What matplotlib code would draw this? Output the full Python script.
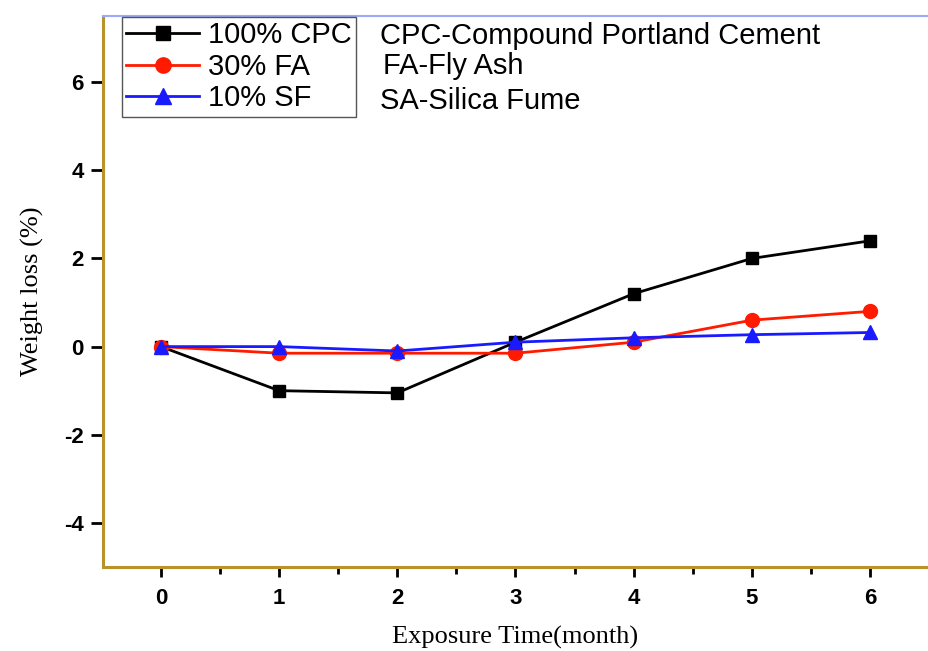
import matplotlib
matplotlib.use("Agg")
import matplotlib.pyplot as plt
from matplotlib.ticker import MultipleLocator

plt.rcParams["axes.unicode_minus"] = False

months = [0, 1, 2, 3, 4, 5, 6]
cpc = [0.0, -1.0, -1.05, 0.1, 1.2, 2.0, 2.4]
fa = [0.0, -0.15, -0.15, -0.15, 0.1, 0.6, 0.8]
sf = [0.0, 0.0, -0.1, 0.1, 0.2, 0.27, 0.32]
series_labels = ["100% CPC", "30% FA", "10% SF"]
notes = ["CPC-Compound Portland Cement", "FA-Fly Ash", "SA-Silica Fume"]
x_ticks = [0, 1, 2, 3, 4, 5, 6]
y_ticks = [-4, -2, 0, 2, 4, 6]

W, H = 929, 651
fig = plt.figure(figsize=(W / 100, H / 100), dpi=100)
ax = fig.add_axes([103 / W, (H - 567) / H, (928 - 103) / W, (567 - 16) / H])

ax.plot(months, cpc, color="black", marker="s", markersize=9, linewidth=2, label=series_labels[0], zorder=3)
ax.plot(months, fa, color="#ff1a00", marker="o", markersize=10, linewidth=2, label=series_labels[1], zorder=3)
ax.plot(months, sf, color="#1a1aff", marker="^", markersize=10, linewidth=2, label=series_labels[2], zorder=4)

ax.set_xlim(-0.49, 6.49)
ax.set_ylim(-5, 7.5)
ax.set_xticks(x_ticks)
ax.set_yticks(y_ticks)
ax.xaxis.set_minor_locator(MultipleLocator(0.5))
ax.tick_params(axis="x", which="major", direction="out", length=7, width=2, pad=8)
ax.tick_params(axis="x", which="minor", direction="out", length=5, width=2)
ax.tick_params(axis="y", which="major", direction="out", length=9, width=2, pad=5)
for lab in ax.get_xticklabels() + ax.get_yticklabels():
    lab.set_fontfamily("Liberation Sans")
    lab.set_fontweight("bold")
    lab.set_fontsize(16)

for s in ["left", "bottom"]:
    ax.spines[s].set_color("#b8922a")
    ax.spines[s].set_linewidth(2.2)
ax.spines["top"].set_color("#9aaaff")
ax.spines["top"].set_linewidth(1.5)
ax.spines["right"].set_visible(False)

ax.set_xlabel("Exposure Time(month)", fontfamily="Liberation Serif", fontsize=19, labelpad=12)
ax.set_ylabel("Weight loss (%)", fontfamily="Liberation Serif", fontsize=19, labelpad=14)

leg = ax.legend(loc="upper left", bbox_to_anchor=(122 / W, 1 - 17 / H), bbox_transform=fig.transFigure,
                prop={"family": "Liberation Sans", "size": 21}, frameon=True, fancybox=False,
                edgecolor="#555555", framealpha=1, borderpad=0.15, labelspacing=0.12,
                handlelength=2.5, handletextpad=0.3, borderaxespad=0, markerscale=1.1)
leg.get_frame().set_linewidth(1.0)

note_y = [36, 66, 101]
note_x = [380, 383, 380]
for t, xx, yy in zip(notes, note_x, note_y):
    fig.text(xx / W, 1 - yy / H, t, fontfamily="Liberation Sans", fontsize=21, va="center", ha="left")

fig.savefig("out.png", dpi=100)
